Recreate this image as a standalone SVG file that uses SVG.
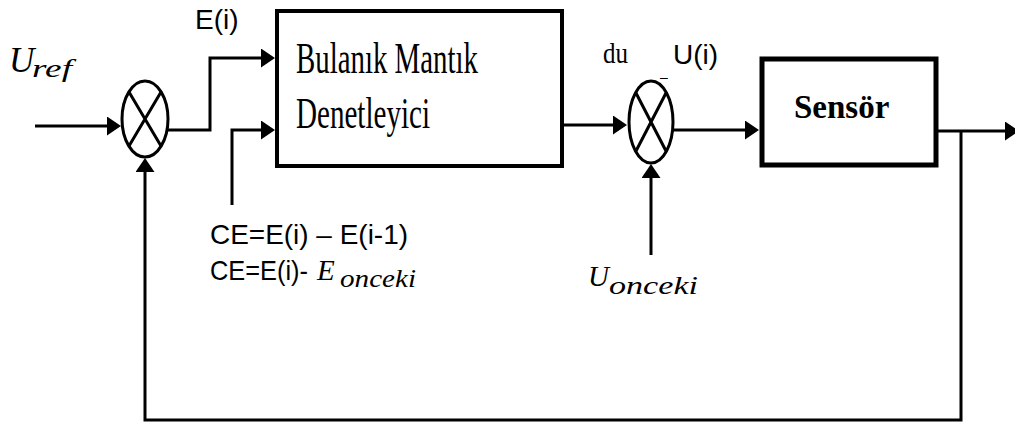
<svg xmlns="http://www.w3.org/2000/svg" width="1015" height="426" viewBox="0 0 1015 426">
<style>
.ln{fill:none;stroke:#000;stroke-width:3}
.sum{fill:#fff;stroke:#000;stroke-width:3}
.sans{font-family:"Liberation Sans",Arial,sans-serif;fill:#000}
.tms{font-family:"Liberation Serif","Times New Roman",serif;fill:#000}
.math{font-family:"Liberation Serif","Times New Roman",serif;font-style:italic;fill:#000}
</style>
<defs>
<marker id="ah" viewBox="0 0 14 19" refX="1" refY="9.5" markerWidth="14" markerHeight="19" markerUnits="userSpaceOnUse" orient="auto">
<path d="M0,0 L14,9.5 L0,19 z" fill="#000"/>
</marker>
</defs>
<rect width="1015" height="426" fill="#fff"/>
<g id="connectors">
<path class="ln" d="M35,126 H108" marker-end="url(#ah)"/>
<path class="ln" d="M168,130 H210 V58 H262" marker-end="url(#ah)"/>
<path class="ln" d="M232,205 V130 H262" marker-end="url(#ah)"/>
<path class="ln" d="M563,125 H614" marker-end="url(#ah)"/>
<path class="ln" d="M673,130 H746" marker-end="url(#ah)"/>
<path class="ln" d="M651,255 V177" marker-end="url(#ah)"/>
<path class="ln" d="M938,131 H1006" marker-end="url(#ah)"/>
<path class="ln" d="M961,131 V420 H145 V171" marker-end="url(#ah)"/>
</g>
<g id="sum1">
<ellipse class="sum" cx="145" cy="119" rx="23" ry="38"/>
<path class="ln" d="M129,92 L161,146 M161,92 L129,146"/>
</g>
<g id="fuzzy">
<rect x="277" y="11" width="285" height="155" fill="#fff" stroke="#000" stroke-width="4"/>
<text class="tms" x="296" y="73" style="font-size:44px" textLength="182" lengthAdjust="spacingAndGlyphs">Bulanık Mantık</text>
<text class="tms" x="296" y="128" style="font-size:44px" textLength="134" lengthAdjust="spacingAndGlyphs">Denetleyici</text>
</g>
<g id="sum2">
<ellipse class="sum" cx="651" cy="122" rx="22" ry="41"/>
<path class="ln" d="M636,93 L666,151 M666,93 L636,151"/>
</g>
<g id="sensor">
<rect x="762" y="59" width="174" height="106" fill="#fff" stroke="#000" stroke-width="5"/>
<text class="tms" x="794" y="118" style="font-size:33px;font-weight:bold">Sensör</text>
</g>
<g id="labels">
<text class="math" x="9" y="72" style="font-size:35px">U<tspan x="32" y="77" style="font-size:26px" textLength="40" lengthAdjust="spacingAndGlyphs">ref</tspan></text>
<text class="sans" x="195" y="29" style="font-size:28px">E(i)</text>
<text class="tms" x="603" y="63" style="font-size:30px" textLength="25" lengthAdjust="spacingAndGlyphs">du</text>
<text class="sans" x="673" y="64" style="font-size:28px">U(i)</text>
<text class="sans" x="660" y="82" style="font-size:14px">–</text>
<text class="sans" x="210" y="244" style="font-size:28px" textLength="198" lengthAdjust="spacingAndGlyphs">CE=E(i) – E(i-1)</text>
<text class="sans" x="210" y="280" style="font-size:28px"><tspan textLength="98" lengthAdjust="spacingAndGlyphs">CE=E(i)-</tspan><tspan class="math" x="317" style="font-size:29px">E</tspan><tspan class="math" x="340" y="287" style="font-size:25px" textLength="76" lengthAdjust="spacingAndGlyphs">onceki</tspan></text>
<text class="math" x="588" y="286" style="font-size:29px">U<tspan x="609" y="294" style="font-size:25px" textLength="89" lengthAdjust="spacingAndGlyphs">onceki</tspan></text>
</g>
</svg>
